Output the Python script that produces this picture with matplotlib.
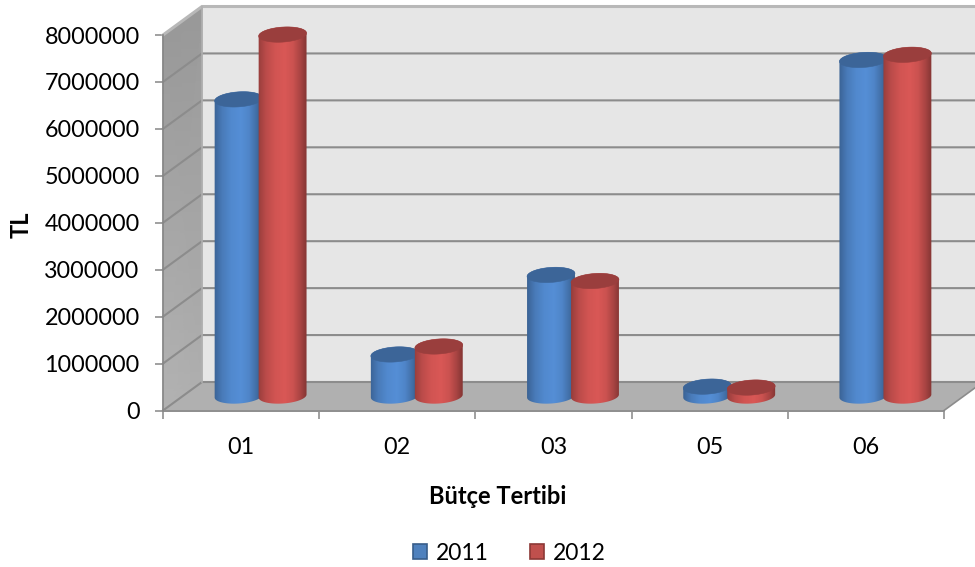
import numpy as np
import matplotlib
matplotlib.use("Agg")
import matplotlib.pyplot as plt
from matplotlib.patches import Polygon, Patch
from matplotlib.colors import to_rgb

categories = ["01", "02", "03", "05", "06"]
series_names = ["2011", "2012"]
values_2011 = [6320000, 885000, 2580000, 200000, 7160000]
values_2012 = [7700000, 1055000, 2450000, 180000, 7270000]
y_ticks = [0, 1000000, 2000000, 3000000, 4000000, 5000000, 6000000, 7000000, 8000000]

W, H = 975, 567
plt.rcParams['font.family'] = ['Lato', 'DejaVu Sans']
fig = plt.figure(figsize=(W / 100, H / 100), dpi=100)
L, R, T, B = 163, 944, 35, 410.5
ax = fig.add_axes([L / W, 1 - B / H, (R - L) / W, (B - T) / H])
XMAX, YMAX = len(categories), 8000000
ppx = (R - L) / XMAX          # pixels per category
ppy = (B - T) / YMAX          # pixels per value unit
DX, DY = 39 / ppx, 28.5 / ppy  # depth of the 3-D box


def tone(c, f):
    return tuple(min(1, x * f) for x in to_rgb(c))


# walls and floor
ax.add_patch(Polygon([(DX, DY), (XMAX + DX, DY), (XMAX + DX, YMAX + DY), (DX, YMAX + DY)],
                     fc="#e6e6e6", ec="none", clip_on=False, zorder=1))
ax.add_patch(Polygon([(0, 0), (DX, DY), (XMAX + DX, DY), (XMAX, 0)],
                     fc="#b0b0b0", ec="none", clip_on=False, zorder=1))
wx = np.array([[0, DX], [0, DX]])
wy = np.array([[0, DY], [YMAX, YMAX + DY]])
ax.pcolormesh(wx, wy, np.array([[0.70, 0.68], [0.60, 0.60]]), shading="gouraud",
              cmap="gray", vmin=0, vmax=1, clip_on=False, zorder=1)
for v in y_ticks:
    c = "#8c8c8c" if v < YMAX else "#b8b8b8"
    ax.plot([0, DX, XMAX + DX], [v, v + DY, v + DY], color=c, lw=1.5 if v < YMAX else 2.2,
            clip_on=False, zorder=2, solid_joinstyle="miter")
ax.plot([DX, DX], [DY, YMAX + DY], color="#b0b0b0", lw=1.2, clip_on=False, zorder=2)
ax.plot([0, XMAX], [0, 0], color="#c4c4c4", lw=1.4, clip_on=False, zorder=2)
ax.plot([XMAX, XMAX + DX], [0, DY], color="#8c8c8c", lw=1.2, clip_on=False, zorder=2)

# cylinders
RX, RY, TILT = 24 / ppx, 7.5 / ppy, np.deg2rad(4)
STEP = 44 / ppx
MID_X, MID_Y = DX / 2, 14.5 / ppy


def ell(cx, cy, t):
    px = 24 * np.cos(t)
    py = 7.5 * np.sin(t)
    xx = px * np.cos(TILT) - py * np.sin(TILT)
    yy = px * np.sin(TILT) + py * np.cos(TILT)
    return cx + xx / ppx, cy + yy / ppy


def cylinder(cx, val, side, z):
    cy0, cy1 = MID_Y, MID_Y + val
    tb = np.linspace(np.pi, 2 * np.pi, 60)
    bx, by = ell(cx, cy0, tb)
    tt = np.linspace(0, np.pi, 60)
    ux, uy = ell(cx, cy1, tt)
    body = Polygon(np.r_[np.c_[bx, by], np.c_[ux, uy]], fc="none", ec="none",
                   transform=ax.transData)
    ax.add_patch(body)
    pos = np.array([0, 0.05, 0.16, 0.35, 0.55, 0.72, 0.88, 0.96, 1])
    fac = np.array([0.74, 0.80, 0.92, 1.03, 1.07, 1.0, 0.82, 0.70, 0.66])
    u = np.linspace(0, 1, 96)
    f = np.interp(u, pos, fac)
    rgb = np.array(to_rgb(side))
    grad = np.clip(rgb[None, None, :] * f[None, :, None], 0, 1)
    im = ax.imshow(grad, extent=[cx - RX * 1.02, cx + RX * 1.02, cy0 - 2 * RY, cy1 + 2 * RY],
                   aspect="auto", interpolation="bilinear", zorder=z, origin="lower")
    im.set_clip_box(fig.bbox)
    im.set_clip_path(body)
    t = np.linspace(0, 2 * np.pi, 120)
    ex, ey = ell(cx, cy1, t)
    ax.add_patch(Polygon(np.c_[ex, ey], fc=tone(side, 0.76), ec=tone(side, 0.76), lw=0.4,
                         clip_on=False, zorder=z + 0.1))


BLUE, RED = "#4f85c8", "#cb5250"
for i, (a, b) in enumerate(zip(values_2011, values_2012)):
    c = i + 0.5 + MID_X
    cylinder(c - STEP / 2, a, BLUE, 3 + i)
    cylinder(c + STEP / 2, b, RED, 3.4 + i)

ax.set_xlim(0, XMAX)
ax.set_ylim(0, YMAX)
ax.set_facecolor("none")
for s in ("top", "right"):
    ax.spines[s].set_visible(False)
for s in ("left", "bottom"):
    ax.spines[s].set_color("#868686")
    ax.spines[s].set_linewidth(1.2)
    ax.spines[s].set_zorder(2.5)
ax.set_yticks(y_ticks)
ax.set_yticklabels([str(v) for v in y_ticks], fontsize=16.8, color="black")
ax.set_xticks(np.arange(XMAX + 1))
ax.set_xticklabels([])
ax.set_xticks(np.arange(XMAX) + 0.5, minor=True)
ax.set_xticklabels(categories, minor=True, fontsize=16.8)
ax.tick_params(axis="y", length=5.8, width=1.1, color="#868686", pad=11)
ax.tick_params(axis="x", which="major", length=5.8, width=1.1, color="#868686")
ax.tick_params(axis="x", which="minor", length=0, pad=19)

fig.text(498 / W, 1 - 496 / H, "Bütçe Tertibi", fontsize=17, fontweight="bold",
         ha="center", va="center")
fig.text(21 / W, 1 - 225 / H, "TL", fontsize=17, fontweight="bold", rotation=90,
         ha="center", va="center")

handles = [Patch(fc="#4f81bd", ec="#385d8a", lw=1.2), Patch(fc="#c0504d", ec="#8c3836", lw=1.2)]
fig.legend(handles, series_names, ncol=2, frameon=False, fontsize=16.5,
           loc="center", bbox_to_anchor=(509 / W, 1 - 553 / H), handlelength=0.64,
           handleheight=0.68, handletextpad=0.36, columnspacing=1.8, borderpad=0)
fig.savefig("out.png", dpi=100)
